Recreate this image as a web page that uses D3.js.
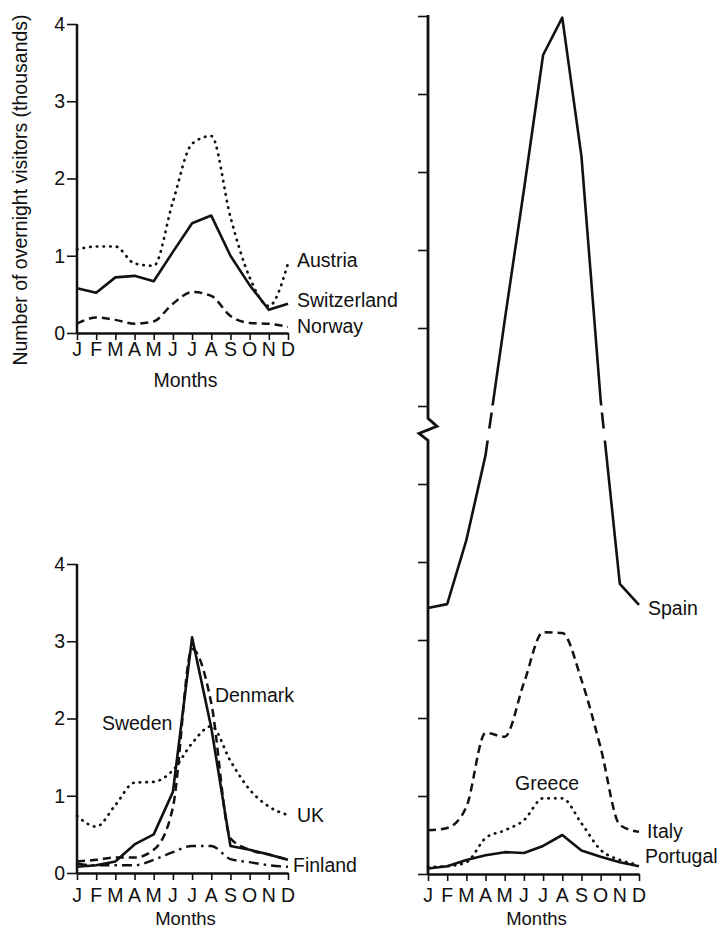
<!DOCTYPE html>
<html><head><meta charset="utf-8">
<script src="https://cdn.jsdelivr.net/npm/d3@7"></script>
<style>
html,body{margin:0;padding:0;background:#fff;}
svg{display:block;font-family:"Liberation Sans",Arial,Helvetica,sans-serif;}
</style>
</head><body>
<svg id="chart" width="721" height="928"></svg>
<script>
// ---------- DATA ----------
const months = ["J","F","M","A","M","J","J","A","S","O","N","D"];
const leftTicks = [0, 1, 2, 3, 4];
const rightTicks = [0,1,2,3,4,5,6,7,8,9,10,11];
const yTitle = "Number of overnight visitors (thousands)";
const xTitle = "Months";

// top-left panel
const austria     = [1.08, 1.12, 1.12, 0.90, 0.87, 1.70, 2.45, 2.55, 1.50, 0.72, 0.35, 0.90];
const switzerland = [0.58, 0.52, 0.72, 0.74, 0.67, 1.05, 1.42, 1.52, 1.00, 0.62, 0.30, 0.38];
const norway      = [0.12, 0.20, 0.17, 0.12, 0.15, 0.38, 0.53, 0.48, 0.22, 0.13, 0.12, 0.08];

// bottom-left panel
const sweden  = [0.08, 0.10, 0.15, 0.37, 0.50, 1.05, 3.05, 1.88, 0.35, 0.30, 0.24, 0.17];
const denmark = [0.15, 0.17, 0.20, 0.20, 0.30, 0.85, 2.90, 2.20, 0.45, 0.30, 0.24, 0.17];
const uk      = [0.74, 0.60, 0.88, 1.17, 1.18, 1.33, 1.68, 1.90, 1.45, 1.08, 0.86, 0.75];
const finland = [0.12, 0.10, 0.10, 0.10, 0.17, 0.27, 0.35, 0.35, 0.18, 0.14, 0.10, 0.08];

// right panel
const spain    = [3.41, 3.46, 4.28, 5.37, 7.10, 8.77, 10.50, 10.98, 9.20, 6.08, 3.72, 3.45];
const italy    = [0.56, 0.59, 0.86, 1.81, 1.76, 2.45, 3.10, 3.09, 2.49, 1.62, 0.63, 0.54];
const greece   = [0.09, 0.10, 0.15, 0.46, 0.56, 0.69, 0.97, 0.97, 0.65, 0.31, 0.18, 0.12];
const portugal = [0.07, 0.10, 0.18, 0.24, 0.28, 0.27, 0.36, 0.50, 0.30, 0.22, 0.15, 0.10];

// ---------- STYLES ----------
const INK = "#111";
const styles = {
  solid:   {dash: null, width: 2.6, cap: "butt", curve: d3.curveLinear},
  dotted:  {dash: "0.5,6.2", width: 2.7, cap: "round", curve: d3.curveMonotoneX},
  dashed:  {dash: "8,5", width: 2.5, cap: "butt", curve: d3.curveMonotoneX},
  dashdot: {dash: "10,5,2.5,5", width: 2.4, cap: "butt", curve: d3.curveMonotoneX}
};

const svg = d3.select("#chart");
const FS = 19.5;

function xAxis(g, x, y0, tickLen) {
  const ax = d3.axisBottom(x).tickValues(d3.range(12)).tickFormat(() => "")
    .tickSize(tickLen).tickSizeOuter(0);
  const gg = g.append("g").attr("transform", `translate(0,${y0})`).call(ax);
  gg.select(".domain").attr("stroke", INK).attr("stroke-width", 2.5);
  gg.selectAll(".tick line").attr("stroke", INK).attr("stroke-width", 1.6);
  return gg;
}
function monthLabels(g, x, baseline, titleBaseline, titleSize) {
  g.append("g").selectAll("text").data(months).join("text")
    .attr("x", (d, i) => x(i)).attr("y", baseline)
    .attr("text-anchor", "middle").attr("font-size", FS).attr("fill", INK)
    .text(d => d);
  g.append("text").attr("x", (x(0) + x(11)) / 2 + 3).attr("y", titleBaseline)
    .attr("text-anchor", "middle").attr("font-size", titleSize).attr("fill", INK).text(xTitle);
}
function yAxisLeft(g, x0, y, ticks, labels) {
  const ax = d3.axisLeft(y).tickValues(ticks).tickSize(10).tickPadding(2).tickSizeOuter(0)
    .tickFormat(labels ? d3.format("d") : () => "");
  const gg = g.append("g").attr("transform", `translate(${x0},0)`).call(ax);
  gg.select(".domain").remove();
  gg.selectAll(".tick line").attr("stroke", INK).attr("stroke-width", 1.6);
  gg.selectAll(".tick text").attr("font-size", FS).attr("fill", INK)
    .attr("font-family", "Liberation Sans, Arial, sans-serif");
  return gg;
}
function drawLine(g, x, y, values, styleName, clip) {
  const st = styles[styleName];
  const line = d3.line().x((d, i) => x(i)).y(d => y(d)).curve(st.curve);
  const p = g.append("path").datum(values).attr("d", line)
    .attr("fill", "none").attr("stroke", INK).attr("stroke-width", st.width)
    .attr("stroke-linecap", st.cap).attr("stroke-linejoin", "round");
  if (st.dash) p.attr("stroke-dasharray", st.dash);
  if (clip) p.attr("clip-path", clip);
  return p;
}
function label(g, x, y, text, m, v) {
  g.append("text").attr("x", x(m)).attr("y", y(v)).attr("font-size", FS)
    .attr("fill", INK).text(text);
}

// ---------- TOP-LEFT PANEL ----------
{
  const g = svg.append("g");
  const x = d3.scaleLinear().domain([0, 11]).range([77, 288]);
  const y = d3.scaleLinear().domain([0, 4]).range([333, 24]);
  drawLine(g, x, y, austria, "dotted");
  drawLine(g, x, y, switzerland, "solid");
  drawLine(g, x, y, norway, "dashed");
  yAxisLeft(g, 77, y, leftTicks, true);
  g.append("line").attr("x1", 77).attr("x2", 77).attr("y1", y(4)).attr("y2", y(0))
    .attr("stroke", INK).attr("stroke-width", 2.5);
  xAxis(g, x, 333, 7);
  monthLabels(g, x, 356, 387, FS);
  label(g, x, y, "Austria", 11.47, 0.85);
  label(g, x, y, "Switzerland", 11.47, 0.34);
  label(g, x, y, "Norway", 11.47, 0.0);
}

// ---------- BOTTOM-LEFT PANEL ----------
{
  const g = svg.append("g");
  const x = d3.scaleLinear().domain([0, 11]).range([77, 288]);
  const y = d3.scaleLinear().domain([0, 4]).range([873, 564]);
  drawLine(g, x, y, uk, "dotted");
  drawLine(g, x, y, finland, "dashdot");
  drawLine(g, x, y, denmark, "dashed");
  drawLine(g, x, y, sweden, "solid");
  yAxisLeft(g, 77, y, leftTicks, true);
  g.append("line").attr("x1", 77).attr("x2", 77).attr("y1", y(4)).attr("y2", y(0))
    .attr("stroke", INK).attr("stroke-width", 2.5);
  xAxis(g, x, 873, 7);
  monthLabels(g, x, 902, 925, 18.5);
  label(g, x, y, "Denmark", 7.19, 2.21);
  label(g, x, y, "Sweden", 1.3, 1.85);
  label(g, x, y, "UK", 11.47, 0.66);
  label(g, x, y, "Finland", 11.26, 0.013);
}

// ---------- RIGHT PANEL ----------
{
  const g = svg.append("g");
  const x = d3.scaleLinear().domain([0, 11]).range([428, 639]);
  const y = d3.scaleLinear().domain([0, 11]).range([874, 16]);
  const breakValue = 5.7;
  const by = y(breakValue);

  // clip that renders the axis break as gaps in the Spain line
  const defs = svg.append("defs");
  const cp = defs.append("clipPath").attr("id", "spainBreak");
  cp.append("rect").attr("x", 0).attr("y", 0).attr("width", 721).attr("height", by - 24);
  cp.append("rect").attr("x", 0).attr("y", by - 17).attr("width", 721).attr("height", 16);
  cp.append("rect").attr("x", 0).attr("y", by + 11).attr("width", 721).attr("height", 928);

  drawLine(g, x, y, greece, "dotted");
  drawLine(g, x, y, italy, "dashed");
  drawLine(g, x, y, portugal, "solid");
  drawLine(g, x, y, spain, "solid", "url(#spainBreak)");

  yAxisLeft(g, 428, y, rightTicks, false);
  const x0 = 428;
  const axisPath = [
    [x0, y(11) - 1], [x0, by - 11], [x0 + 9, by - 3], [x0 - 9, by + 4], [x0, by + 11], [x0, y(0)]
  ];
  g.append("path").attr("d", d3.line()(axisPath)).attr("fill", "none")
    .attr("stroke", INK).attr("stroke-width", 2.8).attr("stroke-linejoin", "miter");
  xAxis(g, x, 874, 7);
  monthLabels(g, x, 902, 925, 18.5);
  label(g, x, y, "Spain", 11.47, 3.32);
  label(g, x, y, "Greece", 4.54, 1.08);
  label(g, x, y, "Italy", 11.42, 0.46);
  label(g, x, y, "Portugal", 11.31, 0.14);
}

// ---------- Y TITLE ----------
svg.append("text").attr("transform", "translate(27,190) rotate(-90)")
  .attr("text-anchor", "middle").attr("font-size", 19.5).attr("fill", INK).text(yTitle);
</script>
</body></html>
